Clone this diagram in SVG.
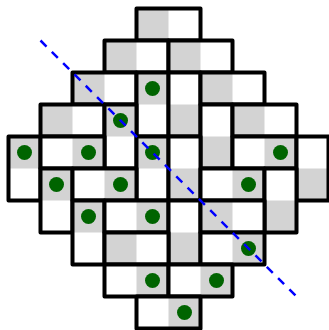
<svg xmlns="http://www.w3.org/2000/svg" width="329" height="330" viewBox="0 0 329 330">
<style>
.bg{fill:#ffffff;stroke:none}
.g{fill:#d3d3d3;stroke:none}
.o{fill:none;stroke:#000000;stroke-width:4;stroke-linejoin:round}
.dot{fill:#006400}
.diag{stroke:#0000ff;stroke-width:2.5;stroke-dasharray:8.5 7.5;fill:none}
</style>
<rect x="0" y="0" width="329" height="330" fill="#ffffff"/>
<g id="dominoes" transform="translate(0.5,0.5)">
<g id="d01"><rect class="bg" x="136" y="8" width="64" height="32"/><rect class="g" x="136" y="8" width="32" height="32"/><rect class="o" x="136" y="8" width="64" height="32"/></g>
<g id="d02"><rect class="bg" x="104" y="40" width="64" height="32"/><rect class="g" x="104" y="40" width="32" height="32"/><rect class="o" x="104" y="40" width="64" height="32"/></g>
<g id="d03"><rect class="bg" x="168" y="40" width="64" height="32"/><rect class="g" x="168" y="40" width="32" height="32"/><rect class="o" x="168" y="40" width="64" height="32"/></g>
<g id="d04"><rect class="bg" x="72" y="72" width="64" height="32"/><rect class="g" x="72" y="72" width="32" height="32"/><rect class="o" x="72" y="72" width="64" height="32"/></g>
<g id="d05"><rect class="bg" x="136" y="72" width="32" height="64"/><rect class="g" x="136" y="72" width="32" height="32"/><rect class="o" x="136" y="72" width="32" height="64"/><circle class="dot" cx="152" cy="88" r="7.5"/></g>
<g id="d06"><rect class="bg" x="168" y="72" width="32" height="64"/><rect class="g" x="168" y="104" width="32" height="32"/><rect class="o" x="168" y="72" width="32" height="64"/></g>
<g id="d07"><rect class="bg" x="200" y="72" width="64" height="32"/><rect class="g" x="200" y="72" width="32" height="32"/><rect class="o" x="200" y="72" width="64" height="32"/></g>
<g id="d08"><rect class="bg" x="40" y="104" width="64" height="32"/><rect class="g" x="40" y="104" width="32" height="32"/><rect class="o" x="40" y="104" width="64" height="32"/></g>
<g id="d09"><rect class="bg" x="104" y="104" width="32" height="64"/><rect class="g" x="104" y="104" width="32" height="32"/><rect class="o" x="104" y="104" width="32" height="64"/><circle class="dot" cx="120" cy="120" r="7.5"/></g>
<g id="d10"><rect class="bg" x="200" y="104" width="32" height="64"/><rect class="g" x="200" y="136" width="32" height="32"/><rect class="o" x="200" y="104" width="32" height="64"/></g>
<g id="d11"><rect class="bg" x="232" y="104" width="64" height="32"/><rect class="g" x="232" y="104" width="32" height="32"/><rect class="o" x="232" y="104" width="64" height="32"/></g>
<g id="d12"><rect class="bg" x="8" y="136" width="32" height="64"/><rect class="g" x="8" y="136" width="32" height="32"/><rect class="o" x="8" y="136" width="32" height="64"/><circle class="dot" cx="24" cy="152" r="7.5"/></g>
<g id="d13"><rect class="bg" x="40" y="136" width="64" height="32"/><rect class="g" x="72" y="136" width="32" height="32"/><rect class="o" x="40" y="136" width="64" height="32"/><circle class="dot" cx="88" cy="152" r="7.5"/></g>
<g id="d14"><rect class="bg" x="136" y="136" width="32" height="64"/><rect class="g" x="136" y="136" width="32" height="32"/><rect class="o" x="136" y="136" width="32" height="64"/><circle class="dot" cx="152" cy="152" r="7.5"/></g>
<g id="d15"><rect class="bg" x="168" y="136" width="32" height="64"/><rect class="g" x="168" y="168" width="32" height="32"/><rect class="o" x="168" y="136" width="32" height="64"/></g>
<g id="d16"><rect class="bg" x="232" y="136" width="64" height="32"/><rect class="g" x="264" y="136" width="32" height="32"/><rect class="o" x="232" y="136" width="64" height="32"/><circle class="dot" cx="280" cy="152" r="7.5"/></g>
<g id="d17"><rect class="bg" x="296" y="136" width="32" height="64"/><rect class="g" x="296" y="168" width="32" height="32"/><rect class="o" x="296" y="136" width="32" height="64"/></g>
<g id="d18"><rect class="bg" x="40" y="168" width="32" height="64"/><rect class="g" x="40" y="168" width="32" height="32"/><rect class="o" x="40" y="168" width="32" height="64"/><circle class="dot" cx="56" cy="184" r="7.5"/></g>
<g id="d19"><rect class="bg" x="72" y="168" width="64" height="32"/><rect class="g" x="104" y="168" width="32" height="32"/><rect class="o" x="72" y="168" width="64" height="32"/><circle class="dot" cx="120" cy="184" r="7.5"/></g>
<g id="d20"><rect class="bg" x="200" y="168" width="64" height="32"/><rect class="g" x="232" y="168" width="32" height="32"/><rect class="o" x="200" y="168" width="64" height="32"/><circle class="dot" cx="248" cy="184" r="7.5"/></g>
<g id="d21"><rect class="bg" x="264" y="168" width="32" height="64"/><rect class="g" x="264" y="200" width="32" height="32"/><rect class="o" x="264" y="168" width="32" height="64"/></g>
<g id="d22"><rect class="bg" x="72" y="200" width="32" height="64"/><rect class="g" x="72" y="200" width="32" height="32"/><rect class="o" x="72" y="200" width="32" height="64"/><circle class="dot" cx="88" cy="216" r="7.5"/></g>
<g id="d23"><rect class="bg" x="104" y="200" width="64" height="32"/><rect class="g" x="136" y="200" width="32" height="32"/><rect class="o" x="104" y="200" width="64" height="32"/><circle class="dot" cx="152" cy="216" r="7.5"/></g>
<g id="d24"><rect class="bg" x="168" y="200" width="32" height="64"/><rect class="g" x="168" y="232" width="32" height="32"/><rect class="o" x="168" y="200" width="32" height="64"/></g>
<g id="d25"><rect class="bg" x="200" y="200" width="64" height="32"/><rect class="g" x="200" y="200" width="32" height="32"/><rect class="o" x="200" y="200" width="64" height="32"/></g>
<g id="d26"><rect class="bg" x="104" y="232" width="64" height="32"/><rect class="g" x="104" y="232" width="32" height="32"/><rect class="o" x="104" y="232" width="64" height="32"/></g>
<g id="d27"><rect class="bg" x="200" y="232" width="64" height="32"/><rect class="g" x="232" y="232" width="32" height="32"/><rect class="o" x="200" y="232" width="64" height="32"/><circle class="dot" cx="248" cy="248" r="7.5"/></g>
<g id="d28"><rect class="bg" x="104" y="264" width="64" height="32"/><rect class="g" x="136" y="264" width="32" height="32"/><rect class="o" x="104" y="264" width="64" height="32"/><circle class="dot" cx="152" cy="280" r="7.5"/></g>
<g id="d29"><rect class="bg" x="168" y="264" width="64" height="32"/><rect class="g" x="200" y="264" width="32" height="32"/><rect class="o" x="168" y="264" width="64" height="32"/><circle class="dot" cx="216" cy="280" r="7.5"/></g>
<g id="d30"><rect class="bg" x="136" y="296" width="64" height="32"/><rect class="g" x="168" y="296" width="32" height="32"/><rect class="o" x="136" y="296" width="64" height="32"/><circle class="dot" cx="184" cy="312" r="7.5"/></g>
</g>
<g id="connectors" transform="translate(0.5,0.5)">
<line class="diag" x1="40" y1="40" x2="296" y2="296"/>
</g>
</svg>
